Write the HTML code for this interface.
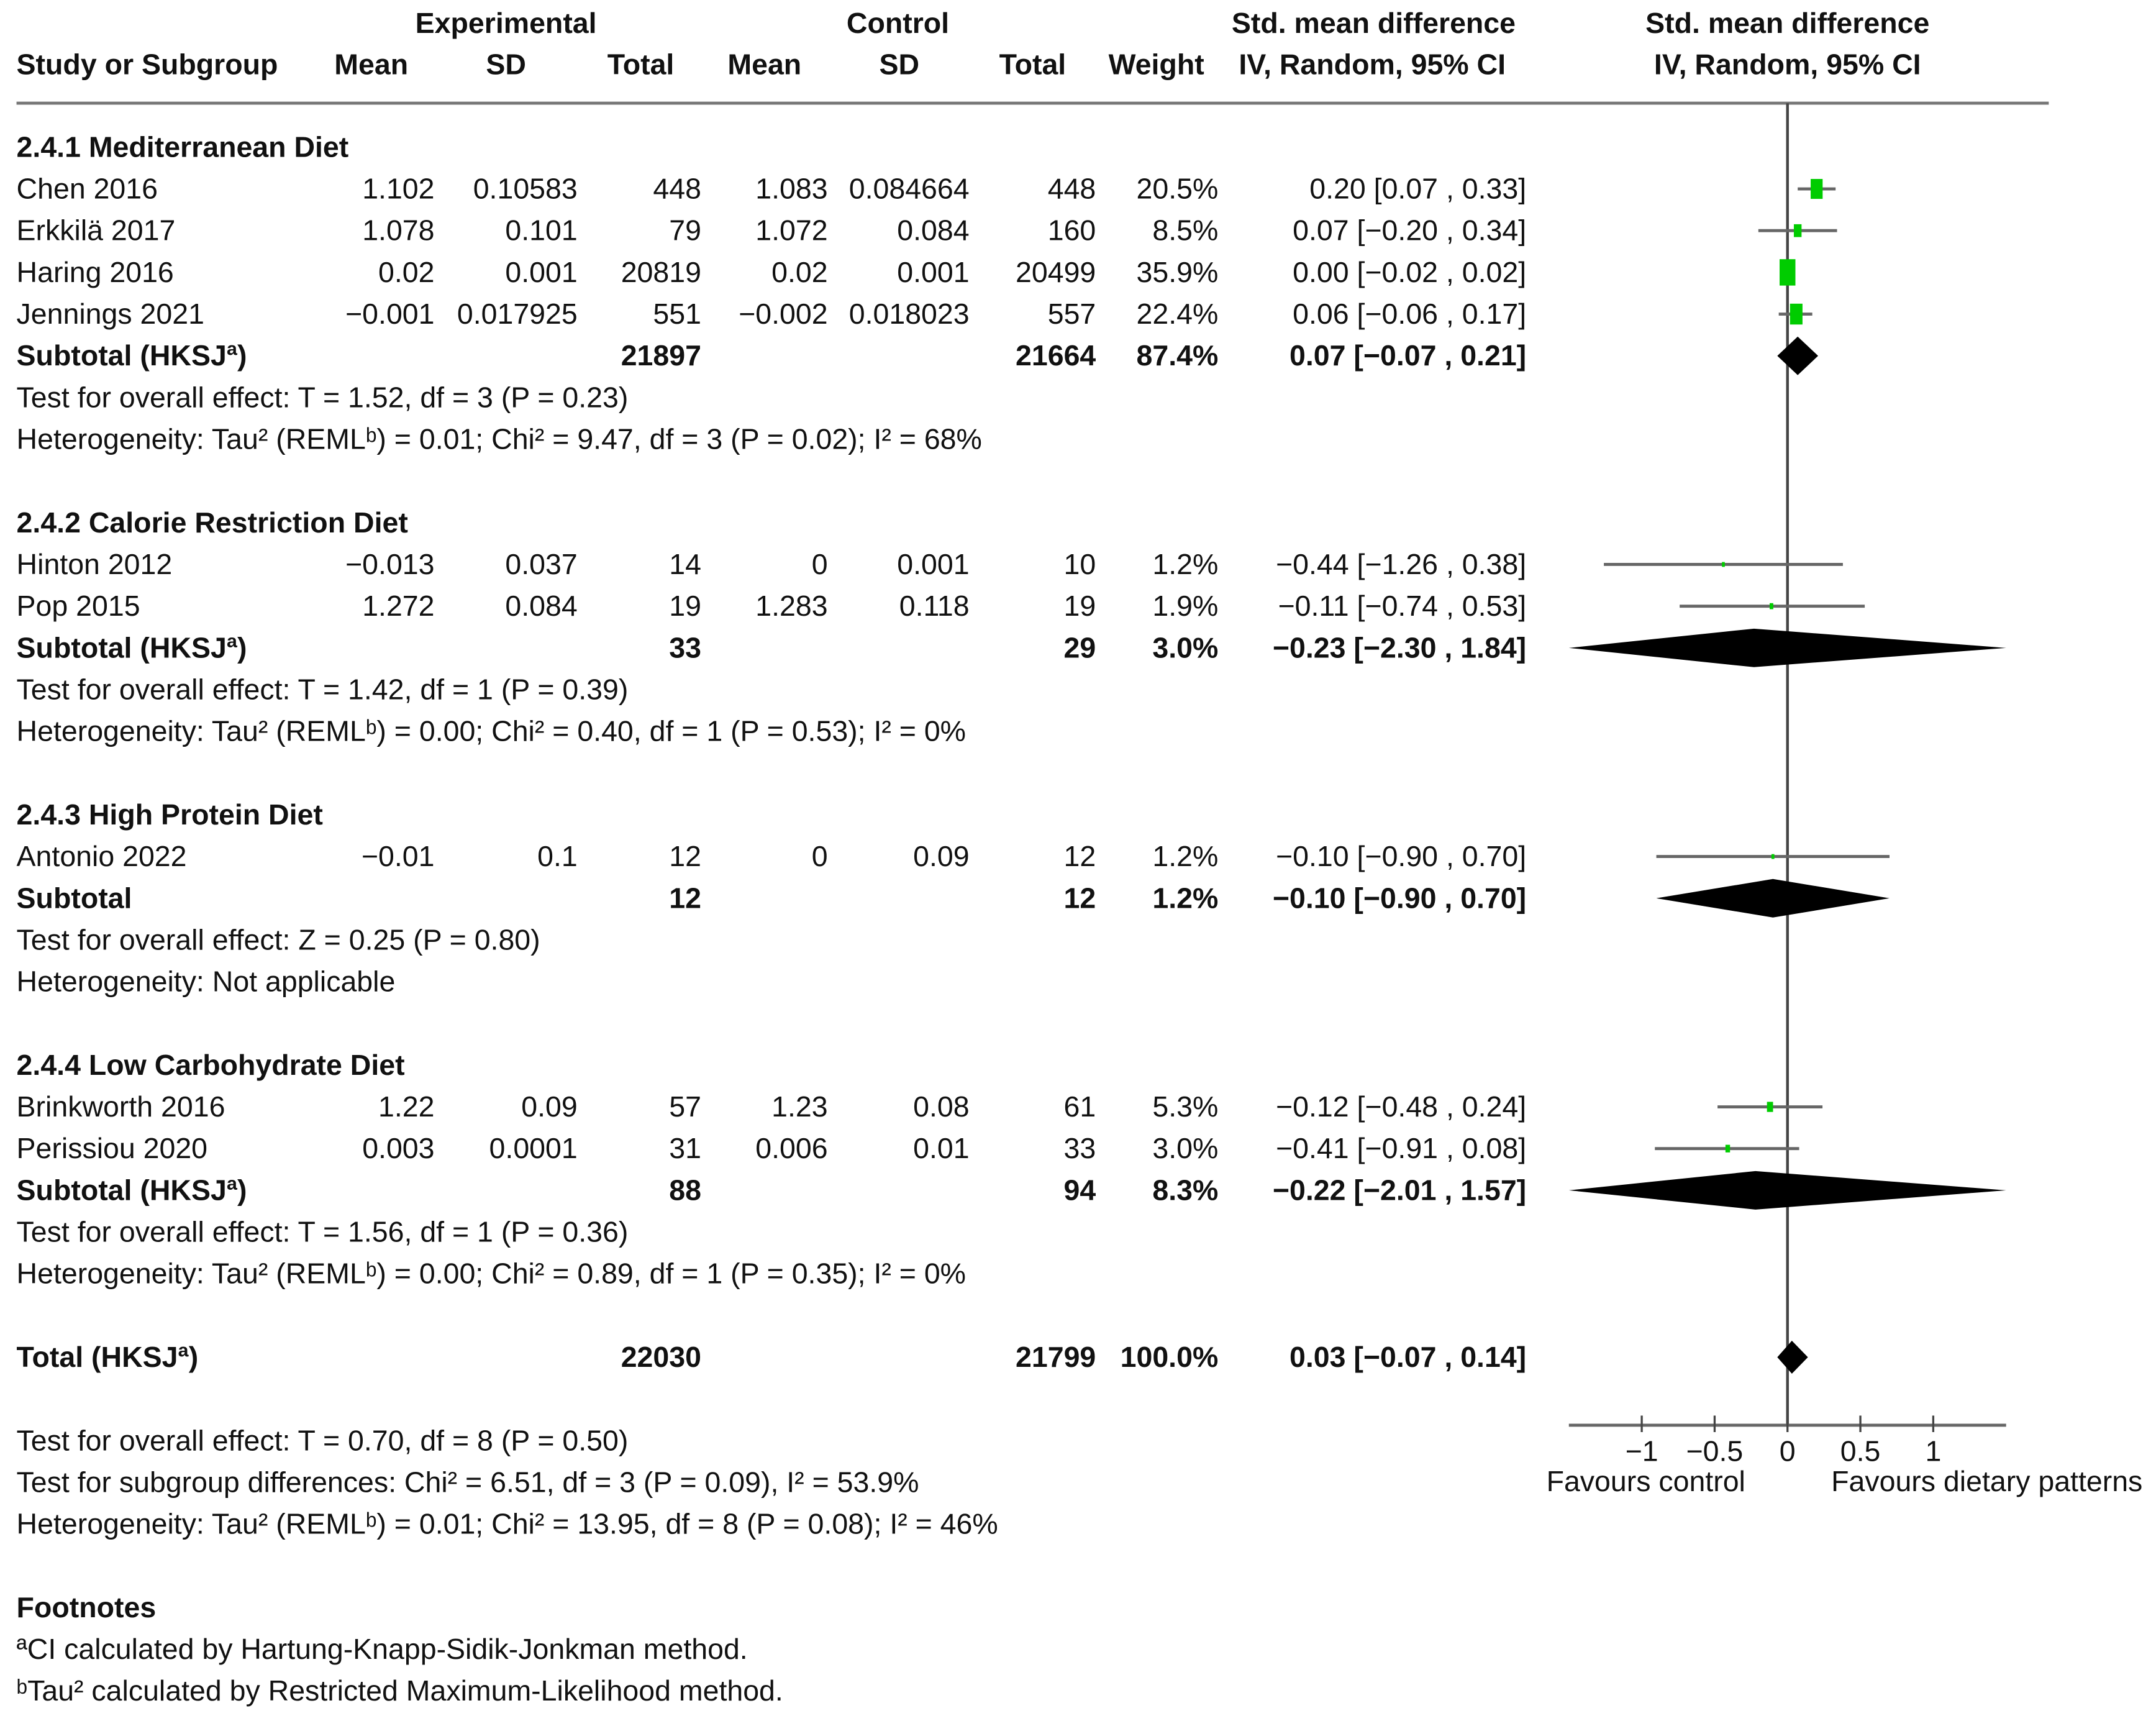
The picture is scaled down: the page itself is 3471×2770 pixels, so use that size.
<!DOCTYPE html>
<html><head><meta charset="utf-8"><style>
html,body{margin:0;padding:0;background:#fff}
svg{display:block}
text{font-family:"Liberation Sans",Arial,sans-serif;font-size:21px;fill:#111}
.b{font-weight:bold}
</style></head><body>
<svg id="fp" width="3471" height="2770" viewBox="0 0 1568 1251" preserveAspectRatio="none" xmlns="http://www.w3.org/2000/svg"></svg>
<script>
const studies=["Chen 2016","Erkkilä 2017","Haring 2016","Jennings 2021","Hinton 2012","Pop 2015","Antonio 2022","Brinkworth 2016","Perissiou 2020"];
const studyRows=[1,2,3,4,10,11,17,23,24];
const estimates=[0.20,0.07,0.00,0.06,-0.44,-0.11,-0.10,-0.12,-0.41];
const lowers=[0.07,-0.20,-0.02,-0.06,-1.26,-0.74,-0.90,-0.48,-0.91];
const uppers=[0.33,0.34,0.02,0.17,0.38,0.53,0.70,0.24,0.08];
const weights=[20.5,8.5,35.9,22.4,1.2,1.9,1.2,5.3,3.0];
const subtotalRows=[5,12,18,25,29];
const subEst=[0.07,-0.23,-0.10,-0.22,0.03];
const subLo=[-0.07,-2.30,-0.90,-2.01,-0.07];
const subHi=[0.21,1.84,0.70,1.57,0.14];
const ticks=[-1,-0.5,0,0.5,1];
const tickLabels=["\u22121","\u22120.5","0","0.5","1"];

const svg=document.getElementById('fp');
const NS='http://www.w3.org/2000/svg';
const X0=1300,U=106;
function xs(v){return Math.max(1141,Math.min(1459,X0+v*U));}
function ry(r){return 107+r*30.33;}
function el(tag,attrs,txt){const e=document.createElementNS(NS,tag);for(const k in attrs)e.setAttribute(k,attrs[k]);if(txt!==undefined)e.textContent=txt;svg.appendChild(e);return e;}
function t(x,y,s,anchor,bold,name){const e=el('text',{x:x,y:y+7,'text-anchor':anchor||'start'},s);if(bold)e.setAttribute('class','b');


return e;}

t(368,17,"Experimental","middle",1,"experimental-header");
t(653,17,"Control","middle",1,"control-header");
t(999,17,"Std. mean difference","middle",1,"smd-header");
t(1300,17,"Std. mean difference","middle",1,"plot-header");
const hdr=[["Study or Subgroup",12,"start"],["Mean",270,"middle"],["SD",368,"middle"],["Total",466,"middle"],["Mean",556,"middle"],["SD",654,"middle"],["Total",751,"middle"],["Weight",841,"middle"],["IV, Random, 95% CI",998,"middle"],["IV, Random, 95% CI",1300,"middle"]];
hdr.forEach(h=>t(h[1],47,h[0],h[2],1,"column-header"));
let hl=el('line',{x1:12,y1:75,x2:1490,y2:75,stroke:'#777','stroke-width':2.2});



const cols=[12,316,420,510,602,705,797,886,1110];
const rows=[
[0,["2.4.1 Mediterranean Diet"],1],
[1,["Chen 2016","1.102","0.10583","448","1.083","0.084664","448","20.5%","0.20 [0.07 , 0.33]"]],
[2,["Erkkilä 2017","1.078","0.101","79","1.072","0.084","160","8.5%","0.07 [\u22120.20 , 0.34]"]],
[3,["Haring 2016","0.02","0.001","20819","0.02","0.001","20499","35.9%","0.00 [\u22120.02 , 0.02]"]],
[4,["Jennings 2021","\u22120.001","0.017925","551","\u22120.002","0.018023","557","22.4%","0.06 [\u22120.06 , 0.17]"]],
[5,["Subtotal (HKSJª)","","","21897","","","21664","87.4%","0.07 [\u22120.07 , 0.21]"],1],
[6,["Test for overall effect: T = 1.52, df = 3 (P = 0.23)"]],
[7,["Heterogeneity: Tau² (REMLᵇ) = 0.01; Chi² = 9.47, df = 3 (P = 0.02); I² = 68%"]],
[9,["2.4.2 Calorie Restriction Diet"],1],
[10,["Hinton 2012","\u22120.013","0.037","14","0","0.001","10","1.2%","\u22120.44 [\u22121.26 , 0.38]"]],
[11,["Pop 2015","1.272","0.084","19","1.283","0.118","19","1.9%","\u22120.11 [\u22120.74 , 0.53]"]],
[12,["Subtotal (HKSJª)","","","33","","","29","3.0%","\u22120.23 [\u22122.30 , 1.84]"],1],
[13,["Test for overall effect: T = 1.42, df = 1 (P = 0.39)"]],
[14,["Heterogeneity: Tau² (REMLᵇ) = 0.00; Chi² = 0.40, df = 1 (P = 0.53); I² = 0%"]],
[16,["2.4.3 High Protein Diet"],1],
[17,["Antonio 2022","\u22120.01","0.1","12","0","0.09","12","1.2%","\u22120.10 [\u22120.90 , 0.70]"]],
[18,["Subtotal","","","12","","","12","1.2%","\u22120.10 [\u22120.90 , 0.70]"],1],
[19,["Test for overall effect: Z = 0.25 (P = 0.80)"]],
[20,["Heterogeneity: Not applicable"]],
[22,["2.4.4 Low Carbohydrate Diet"],1],
[23,["Brinkworth 2016","1.22","0.09","57","1.23","0.08","61","5.3%","\u22120.12 [\u22120.48 , 0.24]"]],
[24,["Perissiou 2020","0.003","0.0001","31","0.006","0.01","33","3.0%","\u22120.41 [\u22120.91 , 0.08]"]],
[25,["Subtotal (HKSJª)","","","88","","","94","8.3%","\u22120.22 [\u22122.01 , 1.57]"],1],
[26,["Test for overall effect: T = 1.56, df = 1 (P = 0.36)"]],
[27,["Heterogeneity: Tau² (REMLᵇ) = 0.00; Chi² = 0.89, df = 1 (P = 0.35); I² = 0%"]],
[29,["Total (HKSJª)","","","22030","","","21799","100.0%","0.03 [\u22120.07 , 0.14]"],1],
[31,["Test for overall effect: T = 0.70, df = 8 (P = 0.50)"]],
[32,["Test for subgroup differences: Chi² = 6.51, df = 3 (P = 0.09), I² = 53.9%"]],
[33,["Heterogeneity: Tau² (REMLᵇ) = 0.01; Chi² = 13.95, df = 8 (P = 0.08); I² = 46%"]],
[35,["Footnotes"],1],
[36,["ªCI calculated by Hartung-Knapp-Sidik-Jonkman method."]],
[37,["ᵇTau² calculated by Restricted Maximum-Likelihood method."]]
];
rows.forEach(r=>{const y=ry(r[0]);r[1].forEach((s,i)=>{if(s!=="")t(cols[i],y,s,i==0?'start':'end',r[2],'table-cell');});});

let vl=el('line',{x1:X0,y1:75,x2:X0,y2:1036,stroke:'#444','stroke-width':2});


let ax=el('line',{x1:1141,y1:1036,x2:1459,y2:1036,stroke:'#666','stroke-width':2.2});


ticks.forEach((v,i)=>{
 let tk=el('line',{x1:xs(v),y1:1029,x2:xs(v),y2:1041,stroke:'#444','stroke-width':1.5});
 
 
 t(xs(v),1055,tickLabels[i],'middle',0,'x-tick-label');
});
t(1197,1077,"Favours control","middle",0,"favours-control-label");
t(1445,1077,"Favours dietary patterns","middle",0,"favours-experimental-label");

studies.forEach((s,i)=>{
 const y=ry(studyRows[i]);
 let l=el('line',{x1:xs(lowers[i]),y1:y,x2:xs(uppers[i]),y2:y,stroke:'#666','stroke-width':2.2});
 
 
 const h=3.2*Math.sqrt(weights[i]),w=h*0.6;
 let sq=el('rect',{x:xs(estimates[i])-w/2,y:y-h/2,width:w,height:h,fill:'#00cc00'});
 
 
});
subtotalRows.forEach((r,i)=>{
 const y=ry(r),hh=i==4?12:14;
 const p=[[xs(subLo[i]),y],[xs(subEst[i]),y-hh],[xs(subHi[i]),y],[xs(subEst[i]),y+hh]].map(a=>a.join(',')).join(' ');
 let d=el('polygon',{points:p,fill:'#000'});
 
 
});
</script>
</body></html>
